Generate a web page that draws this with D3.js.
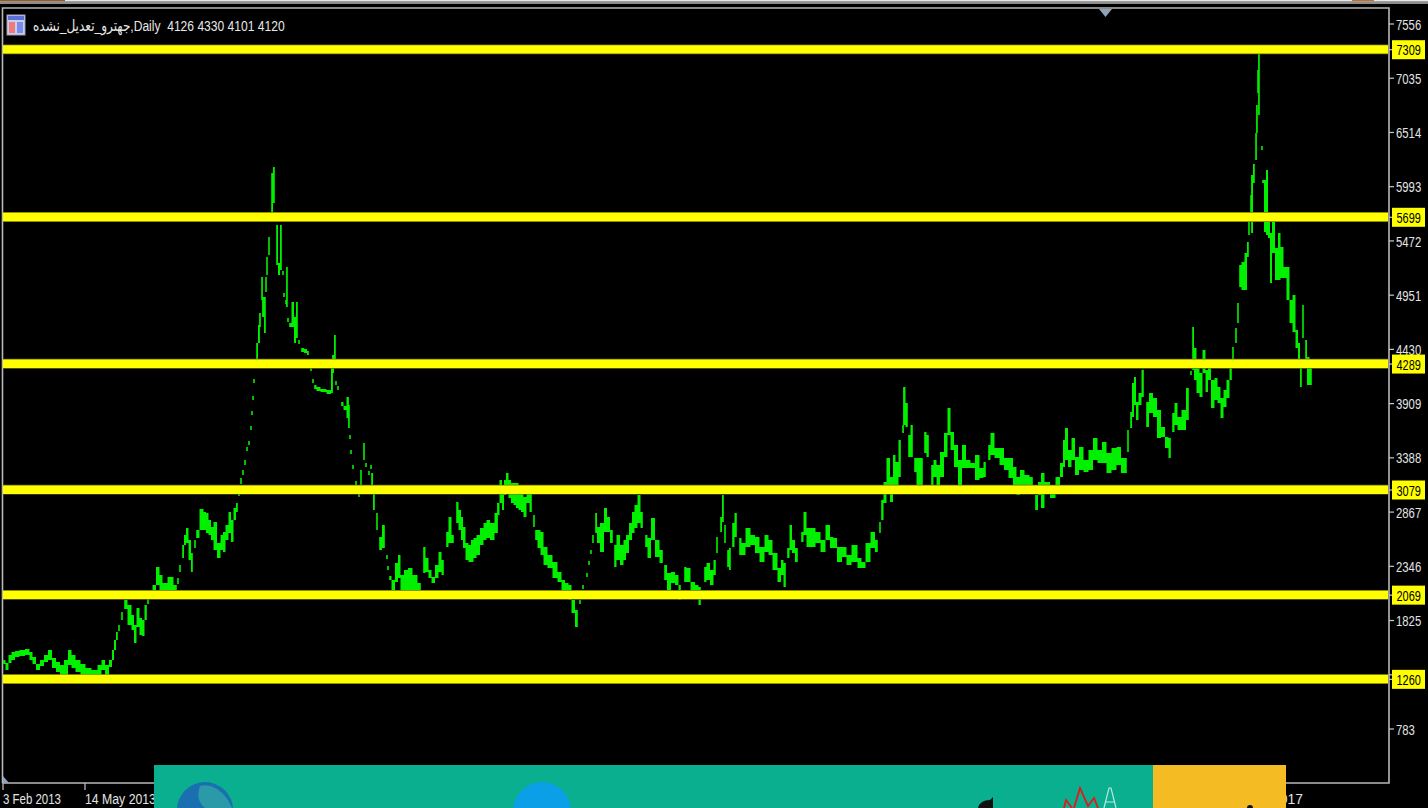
<!DOCTYPE html>
<html><head><meta charset="utf-8">
<script src="https://cdn.jsdelivr.net/npm/d3@7/dist/d3.min.js"></script>
<style>html,body{margin:0;padding:0;background:#000;overflow:hidden}svg{display:block}</style>
</head><body><svg id="c" width="1428" height="808"></svg>
<script>
const titleText = "جهترو_تعدیل_نشده,Daily  4126 4330 4101 4120";
const priceTicks = [7556,7035,6514,5993,5472,4951,4430,3909,3388,2867,2346,1825,1304,783];
const levels = [7309,5699,4289,3079,2069,1260];
const dateTicks = [{bar:3,label:"3 Feb 2013",w:58},{bar:85,label:"14 May 2013",w:71},{bar:1272,label:"2017",w:31}];
// [session, high, low]
const bars1 = [[4,1446,1408],[7,1417,1350],[10,1494,1417],[13,1523,1446],[17,1532,1475],[22,1542,1484],[28,1552,1494],[31,1523,1446],[34,1475,1408],[38,1408,1350],[42,1446,1388],[46,1494,1427],[50,1542,1446],[54,1465,1369],[58,1427,1331],[62,1398,1283],[66,1446,1302],[70,1542,1398],[73,1494,1369],[78,1446,1331],[83,1408,1302],[88,1369,1283],[95,1350,1283],[100,1398,1302],[103,1446,1350],[107,1398,1302],[111,1446,1379],[113,1542,1446],[115,1638,1542],[117,1715,1638],[119,1782,1725],[122,1907,1830],[125,2022,1936],[130,1974,1782],[133,1878,1734],[135,1782,1609],[138,1945,1763],[141,1849,1686],[143,1830,1676],[146,1974,1830],[148,2041,1984],[151,2118,2060],[154,2166,2118],[158,2339,2166],[161,2262,2118],[164,2185,2099],[171,2243,2099],[176,2166,2118],[178,2233,2176],[180,2358,2291],[183,2550,2426],[185,2647,2550],[187,2714,2570],[190,2599,2407],[192,2474,2291],[195,2599,2522],[197,2695,2618],[202,2897,2695],[205,2868,2695],[207,2858,2666],[210,2791,2647],[212,2724,2599],[215,2772,2503],[219,2570,2426],[222,2647,2503],[224,2676,2484],[227,2743,2599],[230,2868,2666],[232,2791,2580],[235,2906,2791],[237,2954,2868]];
const bars2 = [[239,3108,3022],[241,3194,3137],[243,3271,3223],[245,3367,3319],[247,3492,3454],[249,3550,3511],[251,3694,3655],[252,3838,3799],[253,3982,3944],[254,4146,4107],[257,4491,4328],[259,4664,4491],[260,4779,4645],[262,5125,4904],[263,4933,4741],[265,4933,4587],[266,5125,4981],[267,5317,5145],[269,5509,5336],[272,6124,5740],[274,6182,5836],[277,5625,5241],[279,5260,5145],[281,5625,5193],[283,5183,5145],[284,4972,4933],[286,4904,4866],[287,5221,4837],[288,4731,4693],[290,4683,4645],[293,4885,4645],[295,4741,4491],[297,4885,4539],[299,4520,4481],[302,4443,4405],[306,4434,4395],[308,4414,4376],[311,4261,4222],[313,4146,4107],[315,4088,4049],[318,4069,4030],[323,4049,4020],[330,4040,4001],[332,4328,4011],[333,4376,4203],[335,4568,4328],[336,4126,4088],[338,4078,4040],[342,3924,3886],[345,3886,3848],[348,3972,3771],[349,3895,3674],[350,3607,3569],[351,3463,3425],[353,3319,3281],[356,3165,3127],[359,3050,3012],[361,3271,3079],[364,3530,3367],[366,3338,3300],[369,3261,3223],[371,3319,3281],[372,3242,3098],[374,3098,2887],[377,2858,2695],[380,2628,2503],[384,2743,2522],[387,2455,2416],[388,2349,2310],[390,2253,2214],[393,2214,2118],[397,2378,2195],[399,2455,2233]];
const bars3 = [[402,2262,2118],[406,2310,2118],[410,2330,2099],[415,2262,2099],[420,2185,2118],[424,2531,2282],[427,2426,2291],[430,2310,2233],[433,2243,2185],[437,2358,2233],[440,2483,2291],[443,2407,2262],[447,2676,2531],[450,2820,2570],[453,2647,2570],[457,2964,2762],[460,2887,2695],[462,2820,2599],[464,2724,2522],[467,2570,2407],[470,2551,2387],[472,2599,2387],[475,2618,2426],[478,2647,2455],[482,2714,2551],[485,2762,2599],[488,2791,2618],[492,2762,2599],[497,2858,2666],[498,2954,2839],[501,3175,2954],[503,3050,2887],[505,3175,3031],[507,3242,3050],[510,3175,3002],[512,3146,2954],[515,3146,2935],[517,3146,2906],[520,3127,2887],[522,3127,2868],[525,3012,2820],[528,3127,2954],[531,3050,2868],[534,2839,2724],[536,2695,2599],[539,2695,2522],[542,2676,2455],[545,2531,2358],[550,2455,2330],[555,2387,2233],[560,2291,2195],[563,2214,2118],[567,2185,2070],[570,2166,2022],[573,2022,1897],[577,1926,1763],[580,2022,1984],[583,2166,2128],[587,2282,2243],[589,2397,2358],[591,2503,2464],[593,2647,2570],[596,2858,2666],[598,2724,2570],[602,2762,2483],[606,2906,2676],[608,2820,2676],[612,2695,2570],[615,2551,2339],[618,2647,2407],[622,2551,2358],[625,2599,2407],[627,2647,2474],[631,2762,2599],[633,2868,2666],[636,2935,2714],[639,3031,2762],[642,2868,2714],[646,2647,2531],[649,2618,2426],[653,2810,2599],[657,2599,2435],[662,2503,2378],[665,2358,2214],[669,2282,2099],[673,2291,2185],[677,2262,2166],[680,2166,2022],[685,2339,2195],[688,2330,2195],[693,2195,2099],[697,2166,2041],[700,2147,1974],[705,2339,2195],[708,2378,2214],[712,2310,2166],[715,2407,2262],[717,2628,2474],[721,2820,2676],[723,3031,2772],[725,2743,2570],[728,2503,2339],[730,2522,2310],[733,2762,2531],[736,2858,2628],[740,2618,2455],[743,2570,2455],[748,2714,2531],[753,2647,2551],[757,2628,2474],[762,2531,2387],[767,2647,2483],[770,2599,2455],[775,2474,2310],[780,2330,2195],[782,2407,2262],[785,2378,2147],[788,2522,2426],[791,2743,2503],[793,2599,2474],[797,2522,2387],[802,2676,2580],[805,2868,2647],[808,2714,2531],[813,2714,2531],[818,2676,2570],[823,2599,2483],[828,2743,2599],[832,2628,2522],[835,2618,2522],[839,2531,2387],[845,2531,2435],[848,2455,2358],[855,2551,2387],[860,2426,2330],[863,2387,2330],[868,2570,2387],[873,2676,2522],[877,2599,2483],[880,2772,2666]];
const bars4 = [[882,2983,2791],[885,3156,2954],[888,3386,3127],[892,3204,2964],[894,3415,3127],[897,3348,3127],[900,3559,3204],[903,3703,3627],[904,4069,3703],[907,3915,3684],[909,3607,3396],[912,3703,3396],[915,3386,3252],[918,3386,3127],[922,3386,3127],[925,3636,3434],[928,3607,3396],[932,3319,3127],[935,3367,3204],[938,3319,3127],[942,3444,3204],[946,3627,3396],[949,3867,3607],[952,3636,3463],[956,3511,3300],[960,3367,3127],[964,3511,3290],[968,3367,3290],[973,3338,3290],[977,3415,3175],[982,3290,3194],[985,3348,3204],[989,3511,3367],[992,3627,3415],[997,3482,3386],[1002,3482,3319],[1006,3386,3271],[1011,3386,3194],[1015,3300,3108],[1018,3204,3031],[1022,3271,3108],[1027,3223,3108],[1032,3204,3079],[1036,3031,2887],[1040,3156,3031],[1042,3242,2906],[1047,3156,3079],[1053,3127,3002],[1058,3204,3108],[1062,3338,3204],[1064,3559,3300],[1066,3674,3367],[1070,3463,3300],[1073,3578,3367],[1077,3396,3223],[1081,3492,3271],[1086,3367,3252],[1091,3463,3271],[1095,3578,3367],[1100,3463,3338],[1104,3540,3338],[1109,3434,3242],[1114,3482,3271],[1119,3492,3319],[1123,3386,3242],[1126,3386,3242],[1128,3655,3444],[1131,3828,3674],[1133,4107,3780],[1135,4165,3895],[1137,3924,3752],[1140,4011,3895],[1143,4232,3972],[1147,3924,3684],[1151,4011,3819],[1155,3963,3780],[1159,3848,3578],[1163,3684,3588],[1167,3588,3482],[1170,3578,3386],[1173,3819,3636],[1176,3915,3703],[1179,3780,3655],[1184,3848,3655],[1188,4059,3752],[1191,4222,4184],[1193,4645,4232],[1195,4443,4136],[1198,4251,4011],[1201,4203,3972],[1204,4424,4203],[1207,4232,4020],[1209,4328,4136],[1213,4136,3867],[1216,4155,3944],[1219,4069,3915],[1222,3963,3771],[1225,4040,3876],[1228,4136,3963],[1231,4251,4136],[1233,4453,4299],[1236,4635,4491],[1238,4875,4683],[1240,5241,5029],[1243,5269,5000],[1246,5356,5000],[1248,5462,5317],[1249,5654,5529],[1251,5913,5673],[1252,6105,5548],[1254,6211,6028],[1256,6509,6249],[1257,6778,6509],[1258,7114,6893],[1259,7277,6682],[1262,6384,6345],[1263,6057,6028],[1265,6057,5558],[1267,6153,5529],[1269,5673,5500],[1271,5548,5068],[1273,5750,5356],[1277,5404,5097],[1279,5548,5097],[1282,5414,5116],[1285,5221,5116],[1288,5221,4904],[1291,4904,4683],[1294,4952,4597],[1297,4616,4443],[1299,4491,4309],[1301,4328,4069],[1303,4856,4539],[1306,4520,4328],[1308,4357,4088],[1311,4328,4088]];
const bars = [...bars1,...bars2,...bars3,...bars4];

const P = {l:2.5,r:1389,t:8,b:783};
const svg = d3.select("#c");
const font = "'Liberation Sans','DejaVu Sans',sans-serif";
const x = d3.scaleLinear().domain([3,1389]).range([3,1389]);
const y = d3.scaleLinear().domain([783,7556]).range([729,24]);
// squeeze a text horizontally to the given width, the old terminal font is narrow
function fit(sel, px, py, width){
  sel.attr("transform",function(d){
    const s=(typeof width==="function"?width(d):width)/this.getComputedTextLength();
    return `translate(${px},${py}) scale(${s},1)`;
  });
}

// window chrome
svg.append("rect").attr("width",1428).attr("height",808).attr("fill","#000");
svg.append("rect").attr("width",1428).attr("height",4).attr("fill","#8c8c8c");
svg.append("rect").attr("width",1428).attr("height",1.2).attr("fill","#e8e8e8");
svg.append("rect").attr("width",65).attr("height",1.2).attr("fill","#9a5a20");
svg.append("rect").attr("x",1352).attr("width",22).attr("height",1.2).attr("fill","#c07030");
svg.append("path").attr("d",`M${P.l},${P.b}V${P.t}H${P.r}V${P.b}H${P.l}`).attr("fill","none").attr("stroke","#b8b8b8").attr("stroke-width",1.6);

// price bars: runs of overlapping bars form a solid band, the others stay as dashes
const runs=[]; let run=[];
bars.forEach((b,i)=>{ const p=bars[i-1];
  if(p && b[2]<=p[1] && b[1]>=p[2]) run.push(b); else { if(run.length) runs.push(run); run=[b]; } });
runs.push(run);
const band=d3.area().x(d=>x(d[0])).y0(d=>y(d[2])).y1(d=>y(d[1])).curve(d3.curveStep);
svg.append("g").selectAll("path").data(runs.filter(r=>r.length>1)).join("path")
  .attr("d",band).attr("fill","#00f000").attr("stroke","none");
svg.append("g").selectAll("line").data(bars).join("line")
  .attr("x1",d=>x(d[0])).attr("x2",d=>x(d[0])).attr("y1",d=>y(d[1])).attr("y2",d=>y(d[2]))
  .attr("stroke","#00f000").attr("stroke-width",1.6);

// horizontal levels
svg.append("g").selectAll("line").data(levels).join("line")
  .attr("x1",3).attr("x2",P.r-1).attr("y1",d=>y(d)-0.3).attr("y2",d=>y(d)-0.3)
  .attr("stroke","#6e6e00").attr("stroke-width",9.8);
svg.append("g").selectAll("line").data(levels).join("line")
  .attr("x1",3).attr("x2",P.r-1).attr("y1",d=>y(d)-0.3).attr("y2",d=>y(d)-0.3)
  .attr("stroke","#ffff00").attr("stroke-width",8.4);

// price axis
const yAxis=svg.append("g");
const ticks=yAxis.selectAll("g").data(priceTicks).join("g").attr("transform",d=>`translate(0,${y(d)})`);
ticks.append("line").attr("x1",P.r).attr("x2",P.r+5).attr("stroke","#c8c8c8").attr("stroke-width",1.2);
ticks.append("text").attr("dy","0.36em").attr("fill","#e4e4e4")
  .attr("font-family",font).attr("font-size",15.5).text(d=>d)
  .call(fit,1396,0,d=>String(d).length*6.3);

const lab=svg.append("g").selectAll("g").data(levels).join("g").attr("transform",d=>`translate(0,${y(d)})`);
lab.append("line").attr("x1",P.r).attr("x2",1393).attr("stroke","#c8c8c8").attr("stroke-width",1.2);
lab.append("rect").attr("x",1392).attr("y",-9.5).attr("width",33).attr("height",19).attr("fill","#ffff00");
lab.append("text").attr("dy","0.36em").attr("fill","#000")
  .attr("font-family",font).attr("font-size",15.5).text(d=>d)
  .call(fit,1396.5,0,d=>String(d).length*6.1);

// date axis
const dates=svg.append("g").selectAll("g").data(dateTicks).join("g").attr("transform",d=>`translate(${x(d.bar)},0)`);
dates.append("line").attr("y1",P.b).attr("y2",P.b+7).attr("stroke","#c8c8c8").attr("stroke-width",1.2);
dates.append("text").attr("fill","#e4e4e4")
  .attr("font-family",font).attr("font-size",15.5).text(d=>d.label)
  .call(fit,0,804,d=>d.w);

// markers
svg.append("path").attr("d","M1099,9H1112L1105.5,17Z").attr("fill","#8fa3b5");
svg.append("path").attr("d","M3,776L9,783H3Z").attr("fill","#8fa3c0");

// title
svg.append("text").attr("fill","#e8e8e8").attr("xml:space","preserve")
  .attr("font-family",font).attr("font-size",15.5).attr("direction","ltr")
  .text(titleText).call(fit,33,31,252);
const ic=svg.append("g");
ic.append("rect").attr("x",7).attr("y",15).attr("width",18).attr("height",20).attr("fill","#c9cfe8").attr("stroke","#9aa0b8");
ic.append("rect").attr("x",8).attr("y",16).attr("width",16).attr("height",4).attr("fill","#5b6fd6");
ic.append("rect").attr("x",9).attr("y",22).attr("width",6).attr("height",11).attr("fill","#f07a7a");
ic.append("rect").attr("x",17).attr("y",22).attr("width",6).attr("height",11).attr("fill","#7a8cf0");

// overlapping banner
const ban=svg.append("g");
ban.append("rect").attr("x",154).attr("y",765).attr("width",1000).attr("height",43).attr("fill","#0aaf90");
ban.append("rect").attr("x",1153).attr("y",765).attr("width",133).attr("height",43).attr("fill","#f4bb22");
ban.append("circle").attr("cx",205).attr("cy",810).attr("r",28).attr("fill","#1a6fb0");
ban.append("path").attr("d","M200,786Q215,782 228,800L232,808H205Q195,800 200,786Z").attr("fill","#2a9aa8");
ban.append("circle").attr("cx",542).attr("cy",811).attr("r",29).attr("fill","#0a9fe6");
ban.append("path").attr("d","M978,808Q980,800 990,800L993,797V808Z").attr("fill","#111");
ban.append("path").attr("d","M1064,808L1066,800L1072,808M1074,808L1080,788L1088,806L1094,798L1098,808").attr("fill","none").attr("stroke","#e01818").attr("stroke-width",1.8);
ban.append("path").attr("d","M1104,808L1109,788H1111L1116,808M1106,802H1114").attr("fill","none").attr("stroke","#b8e8e0").attr("stroke-width",1.2);
ban.append("circle").attr("cx",1250).attr("cy",808).attr("r",3).attr("fill","#111");
</script></body></html>
